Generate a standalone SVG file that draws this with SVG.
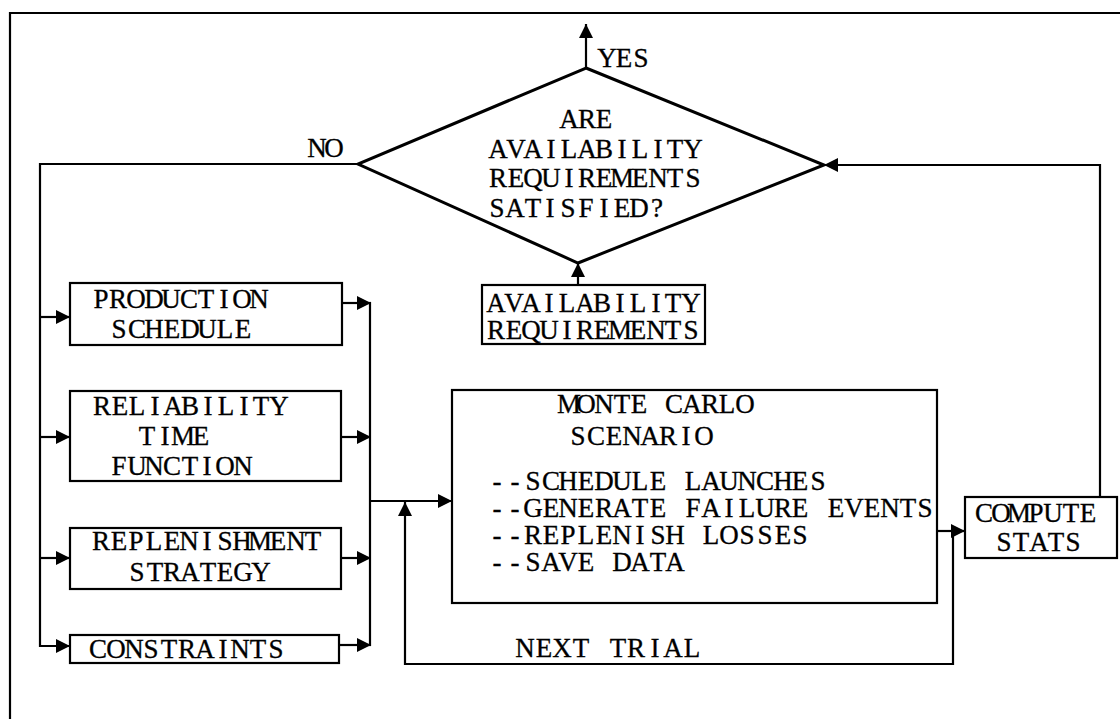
<svg xmlns="http://www.w3.org/2000/svg" width="1120" height="719" viewBox="0 0 1120 719">
<style>
  .t { font-family: "Liberation Serif", "Times New Roman", serif; font-size: 27px; fill: #000; stroke: #000; stroke-width: 0.3; text-anchor: middle; }
  .box { fill: none; stroke: #000; stroke-width: 2.2; }
  .ln { fill: none; stroke: #000; stroke-width: 2.2; }
  .dia { fill: none; stroke: #000; stroke-width: 3; stroke-linejoin: miter; }
</style>
<defs>
  <marker id="ah" markerUnits="userSpaceOnUse" markerWidth="16" markerHeight="14" refX="14" refY="7" orient="auto">
    <path d="M0,0 L14,7 L0,14 Z" fill="#000"/>
  </marker>
</defs>
<rect x="0" y="0" width="1120" height="719" fill="#fff"/>
<g id="frame">
  <path class="ln" d="M10,719 L10,13 L1120,13"/>
</g>
<g id="decision">
  <path class="dia" d="M586,68 L824,165 L578,263 L358,164 Z"/>
  <text class="t" x="569 587 604" y="128">ARE</text>
  <text class="t" x="498 516 533 551 569 587 604 622 640 658 675 693" y="158">AVAILABILITY</text>
  <text class="t" x="498 516 533 551 569 587 604 622 640 658 675 693" y="187">REQUIREMENTS</text>
  <text class="t" x="497 515 533 550 568 586 604 622 639 657" y="217">SATISFIED?</text>
</g>
<g id="labels">
  <text class="t" x="607 624 641" y="67">YES</text>
  <text class="t" x="317 334" y="157">NO</text>
  <text class="t" x="525 544 562 581 599 618 636 655 673 692" y="657">NEXT TRIAL</text>
</g>
<g id="availreq">
  <rect class="box" x="482" y="285" width="223" height="59"/>
  <text class="t" x="496 514 531 549 567 585 602 620 638 656 673 691" y="312">AVAILABILITY</text>
  <text class="t" x="496 514 531 549 567 585 602 620 638 656 673 691" y="339">REQUIREMENTS</text>
</g>
<g id="production">
  <rect class="box" x="70" y="283" width="272" height="62"/>
  <text class="t" x="101 118 136 154 171 189 206 224 242 259" y="308">PRODUCTION</text>
  <text class="t" x="119 137 154 172 190 207 225 243" y="338">SCHEDULE</text>
</g>
<g id="reliability">
  <rect class="box" x="70" y="391" width="271" height="90"/>
  <text class="t" x="102 120 137 155 173 190 208 226 244 261 279" y="415">RELIABILITY</text>
  <text class="t" x="147 165 183 201" y="445">TIME</text>
  <text class="t" x="119 137 154 172 190 207 225 243" y="475">FUNCTION</text>
</g>
<g id="replenishment">
  <rect class="box" x="70" y="528" width="271" height="61"/>
  <text class="t" x="101 119 136 154 172 189 207 225 242 260 278 296 313" y="550">REPLENISHMENT</text>
  <text class="t" x="137 155 172 190 208 225 243 261" y="581">STRATEGY</text>
</g>
<g id="constraints">
  <rect class="box" x="70" y="635" width="269" height="28"/>
  <text class="t" x="98 116 134 151 169 187 205 223 240 258 276" y="658">CONSTRAINTS</text>
</g>
<g id="montecarlo">
  <rect class="box" x="452" y="390" width="485" height="213"/>
  <text class="t" x="569 586 604 622 639 657 674 692 710 727 745" y="413">MONTE CARLO</text>
  <text class="t" x="578 596 614 632 650 668 686 704" y="445">SCENARIO</text>
  <text class="t" x="497 515 533 551 568 586 604 622 640 658 675 693 711 729 747 765 783 800 818" y="490">--SCHEDULE LAUNCHES</text>
  <text class="t" x="497 515 533 551 568 586 604 622 640 658 675 693 711 729 747 765 783 800 818 836 854 872 890 908 925" y="517">--GENERATE FAILURE EVENTS</text>
  <text class="t" x="497 515 533 551 568 586 604 622 640 658 675 693 711 729 747 765 783 800" y="544">--REPLENISH LOSSES</text>
  <text class="t" x="497 515 533 551 568 586 604 622 640 658 675" y="571">--SAVE DATA</text>
</g>
<g id="computestats">
  <rect class="box" x="965" y="497" width="152" height="61"/>
  <text class="t" x="984 1001 1019 1036 1053 1071 1088" y="522">COMPUTE</text>
  <text class="t" x="1004 1021 1039 1056 1073" y="551">STATS</text>
</g>
<g id="connectors">
  <path class="ln" d="M586,68 L586,24" marker-end="url(#ah)"/>
  <path class="ln" d="M358,164 L40,164 L40,646 L70,646" marker-end="url(#ah)"/>
  <path class="ln" d="M40,317 L70,317" marker-end="url(#ah)"/>
  <path class="ln" d="M40,437 L70,437" marker-end="url(#ah)"/>
  <path class="ln" d="M40,558 L70,558" marker-end="url(#ah)"/>
  <path class="ln" d="M342,303 L371,303" marker-end="url(#ah)"/>
  <path class="ln" d="M341,437 L371,437" marker-end="url(#ah)"/>
  <path class="ln" d="M341,558 L371,558" marker-end="url(#ah)"/>
  <path class="ln" d="M339,645 L371,645" marker-end="url(#ah)"/>
  <path class="ln" d="M370,302 L370,646"/>
  <path class="ln" d="M370,501 L452,501" marker-end="url(#ah)"/>
  <path class="ln" d="M937,531 L965,531" marker-end="url(#ah)"/>
  <path class="ln" d="M953,531 L953,664 L405,664 L405,502" marker-end="url(#ah)"/>
  <path class="ln" d="M1100,497 L1100,165 L824,165" marker-end="url(#ah)"/>
  <path class="ln" d="M578,285 L578,263" marker-end="url(#ah)"/>
</g>
</svg>
